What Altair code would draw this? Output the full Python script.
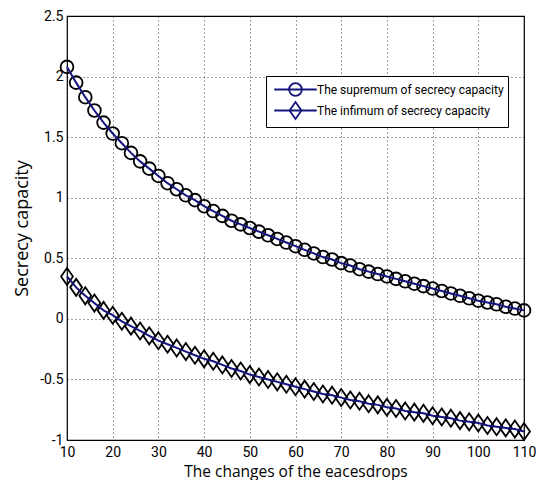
import altair as alt
import pandas as pd

x_vals = list(range(10, 111, 2))

supremum = [2.08, 1.95, 1.83, 1.72, 1.62, 1.53, 1.45, 1.37, 1.30, 1.24,
            1.18, 1.12, 1.07, 1.02, 0.98, 0.93, 0.89, 0.85, 0.81, 0.78,
            0.75, 0.72, 0.69, 0.66, 0.63, 0.60, 0.57, 0.54, 0.51, 0.49,
            0.46, 0.44, 0.41, 0.39, 0.37, 0.35, 0.33, 0.31, 0.29, 0.27,
            0.25, 0.23, 0.21, 0.19, 0.17, 0.15, 0.135, 0.12, 0.10, 0.085,
            0.07]

infimum = [0.35, 0.26, 0.19, 0.13, 0.07, 0.03, -0.02, -0.06, -0.10, -0.14,
           -0.18, -0.21, -0.24, -0.27, -0.30, -0.33, -0.35, -0.38, -0.41, -0.43,
           -0.46, -0.48, -0.50, -0.52, -0.54, -0.56, -0.58, -0.60, -0.62, -0.63,
           -0.65, -0.67, -0.68, -0.70, -0.71, -0.73, -0.74, -0.76, -0.77, -0.78,
           -0.80, -0.81, -0.82, -0.84, -0.85, -0.86, -0.88, -0.89, -0.90, -0.91,
           -0.93]

series_names = ["The supremum of secrecy capacity", "The infimum of secrecy capacity"]
x_ticks = [10, 20, 30, 40, 50, 60, 70, 80, 90, 100, 110]
y_ticks = [-1, -0.5, 0, 0.5, 1, 1.5, 2, 2.5]

rows = []
for name, vals in zip(series_names, [supremum, infimum]):
    for xv, yv in zip(x_vals, vals):
        rows.append({"x": xv, "y": yv, "series": name})
df = pd.DataFrame(rows)

NAVY = "#14147e"
TICK_FONT = "Roboto"
TITLE_FONT = "Open Sans"

circle_path = "M0.75,0A0.75,0.75,0,1,1,-0.75,0A0.75,0.75,0,1,1,0.75,0Z"
diamond_path = "M0,-1L0.7,0L0,1L-0.7,0Z"
legend_circle = "M-2.5,0L2.5,0M0.75,0A0.75,0.75,0,1,1,-0.75,0A0.75,0.75,0,1,1,0.75,0"
legend_diamond = "M-2.5,0L2.5,0M0,-1L0.7,0L0,1L-0.7,0Z"

x_enc = alt.X("x:Q", scale=alt.Scale(domain=[10, 110], nice=False, zero=False),
              axis=alt.Axis(values=x_ticks, title="The changes of the eacesdrops",
                            labelFont=TICK_FONT, labelFontSize=14, labelColor="black",
                            labelPadding=5, titleFont=TITLE_FONT, titleFontSize=15.5,
                            titleFontWeight="normal", titleColor="black", titlePadding=5,
                            ticks=False, domain=False, gridColor="black", gridDash=[1, 3],
                            gridOpacity=0.75, labelFlush=False))
y_enc = alt.Y("y:Q", scale=alt.Scale(domain=[-1, 2.5], nice=False, zero=False),
              axis=alt.Axis(values=y_ticks, title="Secrecy capacity", labelExpr="datum.value + ''",
                            labelFont=TICK_FONT, labelFontSize=14, labelColor="black",
                            labelPadding=4, titleFont=TITLE_FONT, titleFontSize=18,
                            titleFontWeight="normal", titleColor="black", titlePadding=8,
                            ticks=False, domain=False, gridColor="black", gridDash=[1, 3],
                            gridOpacity=0.75))

legend_layer = alt.Chart(df).mark_point(opacity=0, filled=False).encode(
    x=x_enc, y=y_enc,
    shape=alt.Shape("series:N",
                    scale=alt.Scale(domain=series_names, range=[legend_circle, legend_diamond]),
                    legend=alt.Legend(orient="none", legendX=199, legendY=60, title=None,
                                      padding=4, labelOffset=12, symbolOffset=16, rowPadding=-2,
                                      labelFont=TICK_FONT, labelFontSize=12, labelLimit=400,
                                      symbolSize=289, symbolStrokeColor=NAVY,
                                      symbolStrokeWidth=1.8, symbolOpacity=1,
                                      symbolFillColor="transparent", labelColor="black",
                                      fillColor="white", strokeColor="black"))
)

markers = alt.Chart(df).mark_point(filled=False, size=289, stroke="black", strokeWidth=1.8,
                                   opacity=1).encode(
    x="x:Q", y="y:Q",
    shape=alt.Shape("series:N",
                    scale=alt.Scale(domain=series_names, range=[circle_path, diamond_path]),
                    legend=None)
)

lines = alt.Chart(df).mark_line(color=NAVY, strokeWidth=2).encode(
    x="x:Q", y="y:Q", detail="series:N"
)

chart = alt.layer(legend_layer, markers, lines).resolve_scale(shape="independent").properties(
    width=457, height=424,
    autosize=alt.AutoSizeParams(type="none"),
    padding={"left": 59, "top": 8, "right": 12, "bottom": 40},
    background="white",
).configure_view(stroke="black", strokeWidth=1.2)

chart.save("out.html", embed_options={"renderer": "svg", "actions": False})
